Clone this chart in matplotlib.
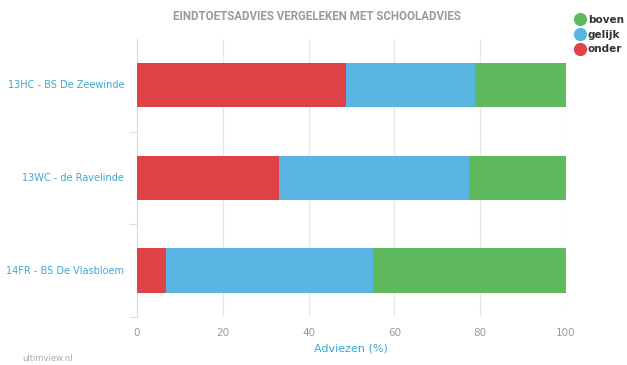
import matplotlib.pyplot as plt
from matplotlib.lines import Line2D

scholen = ['13HC - BS De Zeewinde', '13WC - de Ravelinde', '14FR - BS De Vlasbloem']
onder = [48.7, 33.1, 6.8]
gelijk = [30.1, 44.3, 48.2]
boven = [21.2, 22.6, 45.0]

c_onder = '#e04347'
c_gelijk = '#5ab5e2'
c_boven = '#5fba5d'
label_col = '#3aa9d6'
grey = '#9a9a9a'

fig = plt.figure(figsize=(6.27, 3.65), dpi=100)
ax = fig.add_axes([0.2185, 0.1315, 0.684, 0.762])

pos = [2, 1, 0]
left2 = [a + b for a, b in zip(onder, gelijk)]
ax.barh(pos, onder, height=0.48, color=c_onder, zorder=3)
ax.barh(pos, gelijk, left=onder, height=0.48, color=c_gelijk, zorder=3)
ax.barh(pos, boven, left=left2, height=0.48, color=c_boven, zorder=3)

ax.set_xlim(0, 100)
ax.set_ylim(-0.5, 2.5)
ax.set_xticks([0, 20, 40, 60, 80, 100])
ax.tick_params(axis='x', length=0, colors=grey, labelsize=7.5, pad=8)
ax.xaxis.grid(True, color='#e6e6e6', linewidth=0.8, zorder=0)

# category labels at band centres, ticks at band edges
ax.set_yticks([-0.5, 0.5, 1.5])
ax.set_yticklabels([])
ax.tick_params(axis='y', length=6, color='#d8dde6', width=0.8)
for p, s in zip(pos, scholen):
    ax.text(-3, p, s, ha='right', va='center', color=label_col, fontsize=7,
            transform=ax.transData)

for side in ['top', 'right', 'bottom']:
    ax.spines[side].set_visible(False)
ax.spines['left'].set_color('#d8dde6')
ax.spines['left'].set_linewidth(0.8)

ax.set_xlabel('Adviezen (%)', color=label_col, fontsize=8, labelpad=4)

fig.text(0.505, 0.955, 'EINDTOETSADVIES VERGELEKEN MET SCHOOLADVIES',
         ha='center', va='center', color=grey, fontsize=8.3, fontweight='bold',
         family='Roboto')

handles = [Line2D([], [], marker='o', linestyle='', markersize=8.5, color=c)
           for c in [c_boven, c_gelijk, c_onder]]
fig.legend(handles, ['boven', 'gelijk', 'onder'], loc='upper left',
           bbox_to_anchor=(0.912, 0.97), frameon=False, handletextpad=0.35,
           labelspacing=0.45, borderaxespad=0, handlelength=0.8,
           prop={'weight': 'bold', 'size': 7.5}, labelcolor='#333333')

fig.text(0.035, 0.005, 'ultimview.nl', color='#aaaaaa', fontsize=6, ha='left', va='bottom')

fig.savefig('out.png', dpi=100)
